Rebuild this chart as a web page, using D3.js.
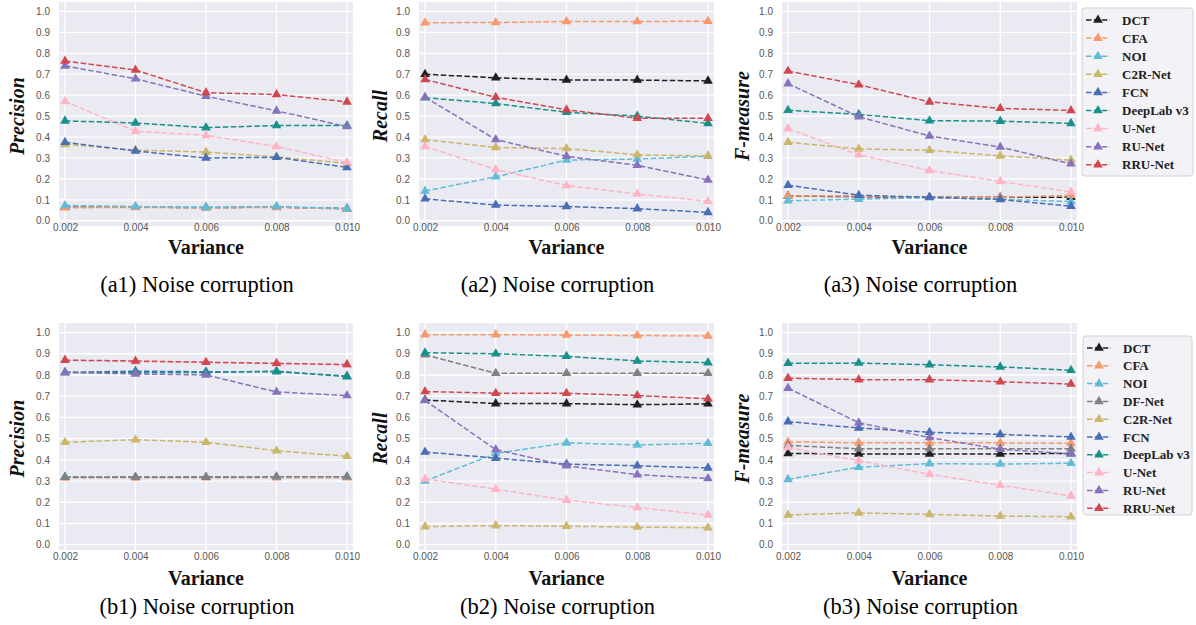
<!DOCTYPE html>
<html><head><meta charset="utf-8">
<script src="https://cdn.jsdelivr.net/npm/d3@7"></script>
<style>body{margin:0;background:#fff;} svg{display:block}</style>
</head><body>
<svg id="chart" width="1196" height="625"></svg>
<script>
// ---------- data ----------
const variances = [0.002, 0.004, 0.006, 0.008, 0.010];
const xTickLabels = ["0.002", "0.004", "0.006", "0.008", "0.010"];
const yTicks = [0.0, 0.1, 0.2, 0.3, 0.4, 0.5, 0.6, 0.7, 0.8, 0.9, 1.0];

const methodsA = ["DCT", "CFA", "NOI", "C2R-Net", "FCN", "DeepLab v3", "U-Net", "RU-Net", "RRU-Net"];
const methodsB = ["DCT", "CFA", "NOI", "DF-Net", "C2R-Net", "FCN", "DeepLab v3", "U-Net", "RU-Net", "RRU-Net"];

// (a1) Precision, rows in methodsA order
const precisionA = [
  [0.065, 0.065, 0.063, 0.065, 0.058],
  [0.062, 0.064, 0.062, 0.064, 0.056],
  [0.073, 0.068, 0.064, 0.068, 0.058],
  [0.365, 0.338, 0.328, 0.305, 0.275],
  [0.375, 0.333, 0.300, 0.303, 0.255],
  [0.477, 0.467, 0.445, 0.455, 0.455],
  [0.570, 0.428, 0.408, 0.355, 0.278],
  [0.740, 0.678, 0.595, 0.525, 0.450],
  [0.763, 0.720, 0.612, 0.603, 0.568]
];
// (a2) Recall
const recallA = [
  [0.700, 0.683, 0.672, 0.672, 0.668],
  [0.946, 0.947, 0.952, 0.952, 0.953],
  [0.142, 0.210, 0.290, 0.295, 0.308],
  [0.388, 0.350, 0.345, 0.315, 0.310],
  [0.105, 0.075, 0.068, 0.058, 0.040],
  [0.588, 0.560, 0.518, 0.500, 0.465],
  [0.355, 0.245, 0.168, 0.128, 0.093],
  [0.590, 0.388, 0.308, 0.265, 0.195],
  [0.675, 0.590, 0.530, 0.490, 0.490]
];
// (a3) F-measure
const fmeasureA = [
  [0.118, 0.115, 0.112, 0.112, 0.112],
  [0.118, 0.118, 0.112, 0.112, 0.122],
  [0.096, 0.103, 0.110, 0.103, 0.092],
  [0.375, 0.343, 0.337, 0.310, 0.290],
  [0.170, 0.122, 0.112, 0.102, 0.070],
  [0.528, 0.508, 0.478, 0.476, 0.465],
  [0.440, 0.315, 0.240, 0.188, 0.138],
  [0.655, 0.497, 0.405, 0.352, 0.272],
  [0.715, 0.650, 0.568, 0.537, 0.527]
];
// (b1) Precision, rows in methodsB order
const precisionB = [
  [0.318, 0.318, 0.318, 0.318, 0.318],
  [0.315, 0.315, 0.316, 0.316, 0.316],
  [0.320, 0.318, 0.318, 0.320, 0.320],
  [0.318, 0.318, 0.318, 0.320, 0.320],
  [0.483, 0.495, 0.483, 0.443, 0.417],
  [0.812, 0.818, 0.815, 0.815, 0.795],
  [0.812, 0.812, 0.812, 0.818, 0.792],
  [0.870, 0.862, 0.860, 0.852, 0.848],
  [0.812, 0.805, 0.800, 0.720, 0.703],
  [0.870, 0.866, 0.860, 0.855, 0.849]
];
// (b2) Recall
const recallB = [
  [0.682, 0.665, 0.665, 0.660, 0.664],
  [0.990, 0.990, 0.988, 0.986, 0.984],
  [0.300, 0.430, 0.480, 0.470, 0.478],
  [0.895, 0.808, 0.808, 0.808, 0.808],
  [0.085, 0.090, 0.087, 0.083, 0.080],
  [0.437, 0.408, 0.380, 0.372, 0.362],
  [0.905, 0.900, 0.888, 0.866, 0.858],
  [0.310, 0.262, 0.210, 0.175, 0.140],
  [0.680, 0.448, 0.372, 0.330, 0.312],
  [0.722, 0.714, 0.714, 0.703, 0.688]
];
// (b3) F-measure
const fmeasureB = [
  [0.430, 0.428, 0.428, 0.428, 0.430],
  [0.485, 0.480, 0.480, 0.480, 0.478],
  [0.308, 0.365, 0.382, 0.380, 0.384],
  [0.468, 0.452, 0.452, 0.452, 0.452],
  [0.140, 0.150, 0.143, 0.135, 0.132],
  [0.580, 0.550, 0.530, 0.520, 0.508],
  [0.855, 0.856, 0.848, 0.838, 0.822],
  [0.458, 0.396, 0.332, 0.280, 0.230],
  [0.738, 0.575, 0.505, 0.450, 0.428],
  [0.785, 0.778, 0.778, 0.768, 0.757]
];

// ---------- styles / layout ----------
const colorOf = {
  "DCT": "#1f1f1f",
  "CFA": "#f7996b",
  "NOI": "#63bcd6",
  "DF-Net": "#808080",
  "C2R-Net": "#cbb66a",
  "FCN": "#4a6db3",
  "DeepLab v3": "#17918a",
  "U-Net": "#ffb4c5",
  "RU-Net": "#8872bb",
  "RRU-Net": "#d0474f"
};

const cols = [
  {left: 59, right: 353, ylabX: 17},
  {left: 419, right: 714, ylabX: 380},
  {left: 782, right: 1077, ylabX: 742}
];
const rows = [
  {top: 2, bottom: 226, yLo: -0.025, yHi: 1.045, xTickY: 232, varY: 247, capY: 284, legend: {x: 1082, y: 8, w: 111, h: 168, step: 18.1}},
  {top: 323, bottom: 550, yLo: -0.025, yHi: 1.045, xTickY: 561, varY: 578, capY: 606, legend: {x: 1083, y: 336, w: 109, h: 179, step: 17.8}}
];

const panels = [
  {r: 0, c: 0, ylabel: "Precision", caption: "(a1) Noise corruption", methods: methodsA, values: precisionA},
  {r: 0, c: 1, ylabel: "Recall", caption: "(a2) Noise corruption", methods: methodsA, values: recallA},
  {r: 0, c: 2, ylabel: "F-measure", caption: "(a3) Noise corruption", methods: methodsA, values: fmeasureA, legend: true},
  {r: 1, c: 0, ylabel: "Precision", caption: "(b1) Noise corruption", methods: methodsB, values: precisionB},
  {r: 1, c: 1, ylabel: "Recall", caption: "(b2) Noise corruption", methods: methodsB, values: recallB},
  {r: 1, c: 2, ylabel: "F-measure", caption: "(b3) Noise corruption", methods: methodsB, values: fmeasureB, legend: true}
];

const svg = d3.select("#chart");
const tri = d3.symbol().type(d3.symbolTriangle).size(40);
const serif = "'Liberation Serif', 'Times New Roman', serif";
const sans = "'Liberation Sans', Arial, sans-serif";

panels.forEach(p => {
  const col = cols[p.c], row = rows[p.r];
  const x = d3.scaleLinear().domain([0.00183, 0.01017]).range([col.left, col.right]);
  const y = d3.scaleLinear().domain([row.yLo, row.yHi]).range([row.bottom, row.top]);
  const g = svg.append("g");

  g.append("rect").attr("x", col.left).attr("y", row.top)
    .attr("width", col.right - col.left).attr("height", row.bottom - row.top)
    .attr("fill", "#eaeaf2");

  // grid
  g.selectAll(".hg").data(yTicks).join("line")
    .attr("x1", col.left).attr("x2", col.right)
    .attr("y1", d => y(d)).attr("y2", d => y(d))
    .attr("stroke", "#fff").attr("stroke-width", 1.3);
  g.selectAll(".vg").data(variances).join("line")
    .attr("y1", row.top).attr("y2", row.bottom)
    .attr("x1", d => x(d)).attr("x2", d => x(d))
    .attr("stroke", "#fff").attr("stroke-width", 1.3);

  // axes (tick labels only)
  const yAxis = d3.axisLeft(y).tickValues(yTicks).tickFormat(d3.format(".1f")).tickSize(0).tickPadding(9);
  const ya = g.append("g").attr("transform", `translate(${col.left},0)`).call(yAxis);
  ya.select(".domain").remove();
  ya.selectAll("text").attr("font-family", sans).attr("font-size", 10).attr("fill", "#555");

  const xAxis = d3.axisBottom(x).tickValues(variances).tickFormat((d, i) => xTickLabels[i]).tickSize(0).tickPadding(0);
  const xa = g.append("g").attr("transform", `translate(0,${row.xTickY - 4})`).call(xAxis);
  xa.select(".domain").remove();
  xa.selectAll("text").attr("font-family", sans).attr("font-size", 10).attr("fill", "#555").attr("dy", "0.3em").attr("y", 0);

  // series
  const line = d3.line().x((d, i) => x(variances[i])).y(d => y(d));
  p.methods.forEach((m, k) => {
    const vals = p.values[k];
    g.append("path").datum(vals).attr("d", line)
      .attr("fill", "none").attr("stroke", colorOf[m]).attr("stroke-width", 1.5)
      .attr("stroke-dasharray", "5.5,2.4");
    g.selectAll(null).data(vals).join("path")
      .attr("d", tri).attr("transform", (d, i) => `translate(${x(variances[i])},${y(d)})`)
      .attr("fill", colorOf[m]);
  });

  // labels
  const cy = (y(0) + y(1)) / 2;
  g.append("text").attr("transform", `translate(${col.ylabX},${cy}) rotate(-90)`)
    .attr("text-anchor", "middle").attr("dominant-baseline", "central")
    .attr("font-family", serif).attr("font-size", 20).attr("font-weight", "bold").attr("font-style", "italic")
    .attr("fill", "#111").text(p.ylabel);
  g.append("text").attr("x", (col.left + col.right) / 2).attr("y", row.varY)
    .attr("text-anchor", "middle").attr("dominant-baseline", "central")
    .attr("font-family", serif).attr("font-size", 20).attr("font-weight", "bold")
    .attr("fill", "#111").text("Variance");
  g.append("text").attr("x", (col.left + col.right) / 2 - 9).attr("y", row.capY)
    .attr("text-anchor", "middle").attr("dominant-baseline", "central")
    .attr("font-family", serif).attr("font-size", 22.5)
    .attr("fill", "#000").text(p.caption);

  if (p.legend) {
    const L = row.legend;
    const lg = svg.append("g");
    lg.append("rect").attr("x", L.x).attr("y", L.y).attr("width", L.w).attr("height", L.h)
      .attr("rx", 3).attr("fill", "#f3f3f7").attr("stroke", "#d2d2d6").attr("stroke-width", 1);
    p.methods.forEach((m, k) => {
      const ey = L.y + 12 + k * L.step;
      lg.append("line").attr("x1", L.x + 4).attr("x2", L.x + 28).attr("y1", ey).attr("y2", ey)
        .attr("stroke", colorOf[m]).attr("stroke-width", 1.5).attr("stroke-dasharray", "5.5,2.4");
      lg.append("path").attr("d", tri).attr("transform", `translate(${L.x + 16},${ey})`).attr("fill", colorOf[m]);
      lg.append("text").attr("x", L.x + 40).attr("y", ey).attr("dominant-baseline", "central")
        .attr("font-family", serif).attr("font-size", 13).attr("font-weight", "bold")
        .attr("fill", "#222").text(m);
    });
  }
});
</script>
</body></html>
